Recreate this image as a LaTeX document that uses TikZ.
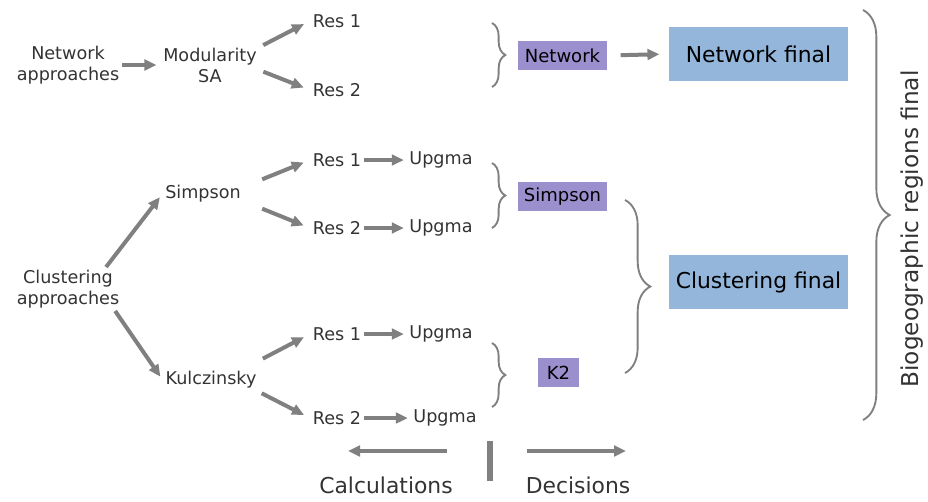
\documentclass[tikz,border=0pt]{standalone}
\usepackage{fontspec}
\setmainfont{DejaVu Sans}
\usetikzlibrary{arrows.meta,positioning,calc,decorations.pathreplacing}
\definecolor{boxPurple}{RGB}{155,143,206}
\definecolor{boxBlue}{RGB}{147,182,218}
\definecolor{arrowGray}{RGB}{128,128,128}
\definecolor{textGray}{RGB}{51,51,51}

\begin{document}
\begin{tikzpicture}[
    x=0.75pt, y=-0.75pt,
    txt/.style={font=\fontsize{13.2}{15.8}\selectfont, text=textGray, inner sep=2pt, align=center},
    tag/.style={rectangle, fill=boxPurple, minimum width=66.75pt, minimum height=21.75pt, inner sep=1pt, font=\fontsize{13.5}{16}\selectfont},
    final/.style={rectangle, fill=boxBlue, minimum width=134.25pt, minimum height=40.5pt, font=\fontsize{16.4}{19}\selectfont},
    arrow/.style={-{Triangle[length=9pt,width=8pt]}, line width=3pt, draw=arrowGray},
    grp/.style={decorate, draw=arrowGray, line width=1.4pt}
]
    \useasboundingbox (0,0) rectangle (928,501);

    \node[txt] (net) at (68,65) {Network\\approaches};
    \node[txt] (mod) at (210,65) {Modularity\\SA};
    \node[txt] (r1a) at (337,21) {Res 1};
    \node[txt] (r2a) at (337,90) {Res 2};
    \node[tag] (netbox) at (562.5,55.5) {Network};
    \node[final] (netfinal) at (758.5,54) {Network final};

    \node[txt] (clus) at (68,289) {Clustering\\approaches};
    \node[txt] (simpson) at (203,194) {Simpson};
    \node[txt, minimum height=32pt] (kul) at (211,380) {Kulczinsky};
    \node[txt] (r1b) at (337,160) {Res 1};
    \node[txt] (u1b) at (441,160) {Upgma};
    \node[txt] (r2b) at (337,228) {Res 2};
    \node[txt] (u2b) at (441,228) {Upgma};
    \node[txt] (r1c) at (337,334) {Res 1};
    \node[txt] (u1c) at (441,334) {Upgma};
    \node[txt] (r2c) at (337,418) {Res 2};
    \node[txt] (u2c) at (445,418) {Upgma};
    \node[tag] (simbox) at (562.5,196.5) {Simpson};
    \node[tag, minimum width=30.75pt] (k2) at (558.5,372.5) {K2};
    \node[final] (clusfinal) at (758.5,282) {Clustering final};

    \node[txt, font=\fontsize{17.4}{20}\selectfont, rotate=90] (bio) at (912,229) {Biogeographic regions final};
    \node[txt, font=\fontsize{16.4}{19}\selectfont] (calc) at (386,485) {Calculations};
    \node[txt, font=\fontsize{16.4}{19}\selectfont] (dec) at (578,485) {Decisions};

    \draw[arrow, shorten >=3pt] (net.east) -- (mod.west);
    \draw[arrow, shorten <=3pt, shorten >=5pt] (mod.20) -- (r1a.west);
    \draw[arrow, shorten <=3pt, shorten >=5pt] (mod.-6) -- (r2a.west);
    \draw[arrow, shorten <=10pt, shorten >=7pt] (netbox.east) -- (netfinal.west);

    \draw[arrow, shorten >=3pt] (clus.30) -- (simpson.west);
    \draw[arrow, shorten >=3pt] (clus.-25) -- (kul.west);
    \draw[arrow, shorten <=15pt, shorten >=5pt] (simpson.10) -- (r1b.west);
    \draw[arrow, shorten <=15pt, shorten >=5pt] (simpson.-10) -- (r2b.west);
    \draw[arrow, shorten <=3pt, shorten >=5pt] (kul.22) -- (r1c.west);
    \draw[arrow, shorten <=2pt, shorten >=5pt] (kul.-14) -- (r2c.west);
    \draw[arrow, shorten >=2pt] (r1b.east) -- (u1b.west);
    \draw[arrow, shorten >=2pt] (r2b.east) -- (u2b.west);
    \draw[arrow, shorten >=2pt] (r1c.east) -- (u1c.west);
    \draw[arrow, shorten >=2pt] (r2c.east) -- (u2c.west);

    \draw[grp, decoration={brace, amplitude=10pt}] (492,23) -- (492,87);
    \draw[grp, decoration={brace, amplitude=10pt}] (492,163) -- (492,228);
    \draw[grp, decoration={brace, amplitude=10pt}] (492,343) -- (492,407);
    \draw[grp, decoration={brace, amplitude=19pt}] (625,200) -- (625,373);
    \draw[grp, decoration={brace, amplitude=20pt}] (863,10) -- (863,420);

    \coordinate (calcstart) at (447,451);
    \coordinate (calcend) at (348,451);
    \coordinate (decstart) at (527,451);
    \coordinate (decend) at (626,451);
    \coordinate (bartop) at (490,441);
    \coordinate (barbot) at (490,481);
    \draw[arrow] (calcstart) -- (calcend);
    \draw[arrow] (decstart) -- (decend);
    \draw[draw=arrowGray, line width=4.5pt] (bartop) -- (barbot);
\end{tikzpicture}
\end{document}
